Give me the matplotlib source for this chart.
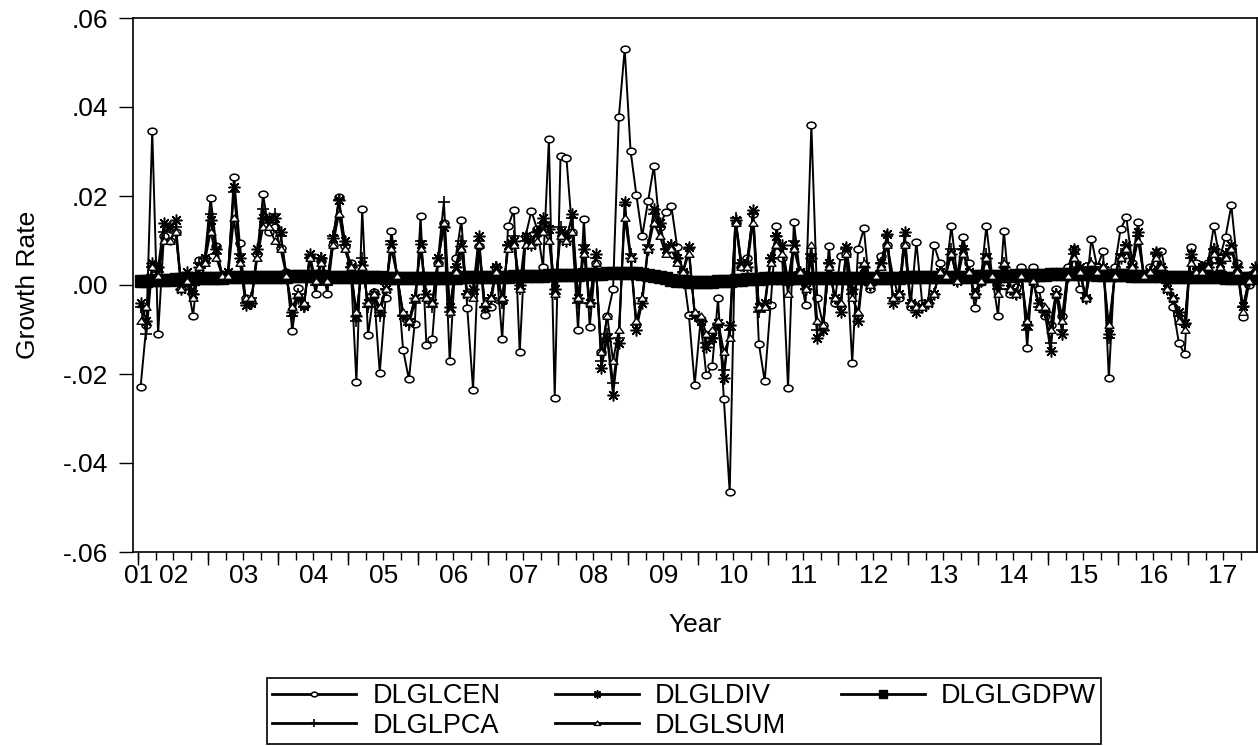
import numpy as np
import matplotlib
matplotlib.use("Agg")
import matplotlib.pyplot as plt
from matplotlib.path import Path
from matplotlib.transforms import Affine2D

plt.rcParams['font.family'] = ['Liberation Sans', 'DejaVu Sans']

# monthly growth rates, 2001m07 - 2017m06
dlglcen = [
    -0.0229, -0.0090, 0.0347, -0.0111, 0.0110, 0.0100, 0.0120, -0.0010, 0.0005, -0.0069, 0.0057, 0.0060,
    0.0196, 0.0087, 0.0020, 0.0020, 0.0243, 0.0095, -0.0030, -0.0040, 0.0070, 0.0204, 0.0120, 0.0130,
    0.0084, 0.0030, -0.0104, -0.0006, -0.0048, 0.0063, -0.0021, 0.0055, -0.0021, 0.0090, 0.0197, 0.0087,
    0.0050, -0.0218, 0.0170, -0.0113, -0.0015, -0.0197, -0.0030, 0.0121, 0.0020, -0.0145, -0.0212, -0.0087,
    0.0155, -0.0134, -0.0122, 0.0050, 0.0140, -0.0171, 0.0060, 0.0146, -0.0051, -0.0235, 0.0088, -0.0068,
    -0.0050, 0.0040, -0.0122, 0.0132, 0.0168, -0.0151, 0.0110, 0.0166, 0.0125, 0.0040, 0.0327, -0.0254,
    0.0291, 0.0286, 0.0120, -0.0102, 0.0149, -0.0095, 0.0050, -0.0150, -0.0070, -0.0010, 0.0378, 0.0531,
    0.0302, 0.0202, 0.0110, 0.0188, 0.0267, 0.0130, 0.0164, 0.0177, 0.0085, 0.0030, -0.0067, -0.0224,
    -0.0080, -0.0203, -0.0182, -0.0030, -0.0257, -0.0466, 0.0140, 0.0040, 0.0060, 0.0160, -0.0132, -0.0216,
    -0.0046, 0.0132, 0.0060, -0.0231, 0.0142, 0.0030, -0.0044, 0.0359, -0.0030, -0.0089, 0.0087, -0.0040,
    0.0065, 0.0070, -0.0175, 0.0080, 0.0127, -0.0010, 0.0020, 0.0065, 0.0090, 0.0020, -0.0030, 0.0090,
    -0.0050, 0.0097, -0.0040, -0.0040, 0.0091, 0.0050, 0.0020, 0.0132, 0.0020, 0.0108, 0.0050, -0.0051,
    0.0007, 0.0132, 0.0020, -0.0069, 0.0121, -0.0021, -0.0004, 0.0040, -0.0141, 0.0040, -0.0010, -0.0070,
    -0.0090, -0.0010, -0.0070, 0.0040, 0.0080, -0.0010, -0.0030, 0.0104, 0.0040, 0.0076, -0.0209, 0.0040,
    0.0125, 0.0152, 0.0050, 0.0141, 0.0020, 0.0040, 0.0030, 0.0076, 0.0010, -0.0050, -0.0130, -0.0156,
    0.0085, 0.0050, 0.0040, 0.0050, 0.0132, 0.0060, 0.0108, 0.0179, 0.0050, -0.0071, 0.0000, 0.0020,
]

dlgldiv = [
    -0.004, -0.008, 0.005, 0.004, 0.014, 0.013, 0.0145, -0.001, 0.003, -0.002, 0.004, 0.006,
    0.0145, 0.008, 0.002, 0.003, 0.022, 0.006, -0.0045, -0.004, 0.008, 0.015, 0.015, 0.015,
    0.012, 0.002, -0.006, -0.003, -0.0048, 0.007, 0.001, 0.006, 0.001, 0.0105, 0.019, 0.010,
    0.004, -0.007, 0.0044, -0.004, -0.002, -0.006, -0.001, 0.0092, 0.002, -0.0068, -0.0084, -0.003,
    0.0092, -0.002, -0.004, 0.006, 0.013, -0.005, 0.004, 0.0087, -0.002, -0.001, 0.011, -0.005,
    -0.003, 0.004, -0.0033, 0.009, 0.010, 0.000, 0.011, 0.009, 0.012, 0.015, 0.0126, -0.001,
    0.012, 0.010, 0.016, -0.003, 0.008, -0.004, 0.007, -0.0187, -0.012, -0.0248, -0.013, 0.0187,
    0.006, -0.010, -0.004, 0.008, 0.017, 0.014, 0.008, 0.009, 0.006, 0.003, 0.0085, -0.0068,
    -0.008, -0.014, -0.012, -0.0086, -0.021, -0.009, 0.0147, 0.005, 0.004, 0.0168, -0.005, -0.004,
    0.006, 0.011, 0.009, 0.001, 0.009, 0.003, -0.001, 0.006, -0.0118, -0.010, 0.005, -0.003,
    -0.006, 0.0086, -0.001, -0.008, 0.004, 0.000, 0.002, 0.005, 0.0115, -0.004, -0.002, 0.0118,
    -0.004, -0.006, -0.005, -0.004, -0.002, 0.003, 0.002, 0.007, 0.001, 0.008, 0.003, -0.002,
    0.001, 0.006, 0.002, 0.000, 0.004, -0.001, -0.002, 0.002, -0.009, 0.001, -0.004, -0.006,
    -0.0148, -0.002, -0.011, 0.002, 0.008, 0.004, -0.003, 0.004, 0.003, 0.004, -0.0109, 0.002,
    0.006, 0.009, 0.004, 0.012, 0.002, 0.003, 0.0075, 0.004, -0.001, -0.003, -0.006, -0.0086,
    0.007, 0.003, 0.004, 0.004, 0.008, 0.005, 0.007, 0.009, 0.004, -0.0048, 0.001, 0.004,
]

dlglgdpw = [
    0.0010, 0.0010, 0.0011, 0.0011, 0.0012, 0.0012,
    0.0013, 0.0013, 0.0014, 0.0014, 0.0015, 0.0015, 0.0016, 0.0016, 0.0016, 0.0017, 0.0017, 0.0017,
    0.0018, 0.0018, 0.0018, 0.0018, 0.0019, 0.0019, 0.0019, 0.0019, 0.0020, 0.0020, 0.0020, 0.0020,
    0.0020, 0.0020, 0.0019, 0.0019, 0.0019, 0.0018, 0.0018, 0.0018, 0.0018, 0.0017, 0.0017, 0.0017,
    0.0016, 0.0016, 0.0016, 0.0016, 0.0015, 0.0015, 0.0015, 0.0015, 0.0015, 0.0015, 0.0016, 0.0016,
    0.0016, 0.0017, 0.0017, 0.0017, 0.0018, 0.0018, 0.0018, 0.0019, 0.0019, 0.0019, 0.0020, 0.0020,
    0.0020, 0.0021, 0.0021, 0.0021, 0.0022, 0.0022, 0.0022, 0.0023, 0.0023, 0.0023, 0.0024, 0.0024,
    0.0025, 0.0025, 0.0026, 0.0026, 0.0026, 0.0027, 0.0027, 0.0026, 0.0025, 0.0023, 0.0021, 0.0018,
    0.0015, 0.0012, 0.0010, 0.0008, 0.0007, 0.0006, 0.0006, 0.0006, 0.0007, 0.0008, 0.0009, 0.0010,
    0.0011, 0.0012, 0.0013, 0.0014, 0.0014, 0.0015, 0.0015, 0.0015, 0.0016, 0.0016, 0.0016, 0.0016,
    0.0016, 0.0016, 0.0016, 0.0016, 0.0016, 0.0016, 0.0015, 0.0015, 0.0015, 0.0015, 0.0015, 0.0015,
    0.0015, 0.0015, 0.0016, 0.0016, 0.0016, 0.0017, 0.0017, 0.0017, 0.0018, 0.0018, 0.0018, 0.0018,
    0.0018, 0.0019, 0.0019, 0.0019, 0.0019, 0.0020, 0.0020, 0.0020, 0.0020, 0.0021, 0.0021, 0.0021,
    0.0022, 0.0022, 0.0022, 0.0023, 0.0023, 0.0023, 0.0024, 0.0024, 0.0024, 0.0024, 0.0024, 0.0024,
    0.0024, 0.0024, 0.0023, 0.0023, 0.0023, 0.0022, 0.0022, 0.0022, 0.0021, 0.0021, 0.0021, 0.0020,
    0.0020, 0.0020, 0.0019, 0.0019, 0.0019, 0.0018, 0.0018, 0.0018, 0.0017, 0.0017, 0.0017, 0.0017,
    0.0016, 0.0016, 0.0016, 0.0016, 0.0016, 0.0016,
]

dlglpca = [
    -0.005, -0.011, 0.004, 0.003, 0.012, 0.013, 0.013, 0.000, 0.002, -0.002, 0.005, 0.005,
    0.016, 0.007, 0.002, 0.003, 0.021, 0.007, -0.004, -0.003, 0.007, 0.017, 0.014, 0.016,
    0.011, 0.002, -0.007, -0.002, -0.005, 0.006, 0.000, 0.006, 0.000, 0.011, 0.019, 0.009,
    0.004, -0.008, 0.006, -0.005, -0.002, -0.007, -0.001, 0.010, 0.002, -0.007, -0.009, -0.004,
    0.010, -0.003, -0.005, 0.006, 0.0187, -0.006, 0.004, 0.010, -0.002, -0.002, 0.010, -0.005,
    -0.003, 0.004, -0.004, 0.009, 0.011, -0.001, 0.010, 0.010, 0.012, 0.014, 0.013, -0.002,
    0.013, 0.011, 0.015, -0.004, 0.009, -0.004, 0.006, -0.017, -0.011, -0.022, -0.012, 0.018,
    0.007, -0.009, -0.003, 0.009, 0.016, 0.013, 0.008, 0.009, 0.006, 0.003, 0.008, -0.007,
    -0.008, -0.013, -0.012, -0.009, -0.019, -0.010, 0.015, 0.005, 0.005, 0.016, -0.006, -0.005,
    0.006, 0.011, 0.008, 0.000, 0.010, 0.003, -0.001, 0.007, -0.010, -0.010, 0.005, -0.003,
    -0.005, 0.008, -0.002, -0.007, 0.005, 0.000, 0.002, 0.005, 0.011, -0.003, -0.002, 0.011,
    -0.004, -0.005, -0.005, -0.004, -0.002, 0.003, 0.002, 0.008, 0.001, 0.008, 0.003, -0.002,
    0.001, 0.007, 0.002, -0.001, 0.005, -0.001, -0.002, 0.002, -0.010, 0.001, -0.005, -0.006,
    -0.013, -0.002, -0.010, 0.002, 0.007, 0.004, -0.003, 0.005, 0.003, 0.004, -0.012, 0.002,
    0.007, 0.009, 0.004, 0.011, 0.002, 0.003, 0.007, 0.004, -0.001, -0.003, -0.007, -0.009,
    0.006, 0.003, 0.004, 0.005, 0.008, 0.005, 0.007, 0.008, 0.004, -0.005, 0.001, 0.003,
]

dlglsum = [
    -0.008, -0.005, 0.004, 0.002, 0.010, 0.010, 0.012, -0.001, 0.001, -0.003, 0.004, 0.005,
    0.012, 0.006, 0.002, 0.002, 0.015, 0.005, -0.003, -0.003, 0.006, 0.013, 0.013, 0.010,
    0.008, 0.002, -0.005, -0.002, -0.004, 0.006, 0.001, 0.005, 0.001, 0.009, 0.016, 0.008,
    0.004, -0.006, 0.004, -0.004, -0.002, -0.005, -0.001, 0.008, 0.002, -0.006, -0.008, -0.003,
    0.008, -0.003, -0.004, 0.005, 0.014, -0.006, 0.003, 0.008, -0.002, -0.003, 0.009, -0.004,
    -0.003, 0.003, -0.003, 0.008, 0.009, -0.001, 0.009, 0.009, 0.010, 0.012, 0.010, -0.002,
    0.011, 0.010, 0.012, -0.003, 0.007, -0.004, 0.005, -0.015, -0.007, -0.017, -0.010, 0.015,
    0.006, -0.008, -0.003, 0.008, 0.014, 0.011, 0.007, 0.008, 0.005, 0.003, 0.007, -0.006,
    -0.007, -0.011, -0.010, -0.008, -0.015, -0.012, 0.014, 0.004, 0.004, 0.014, -0.005, -0.005,
    0.005, 0.009, 0.007, -0.002, 0.008, 0.003, -0.001, 0.009, -0.008, -0.009, 0.004, -0.003,
    -0.004, 0.007, -0.003, -0.006, 0.005, 0.000, 0.002, 0.004, 0.009, -0.003, -0.002, 0.009,
    -0.004, -0.005, -0.005, -0.004, -0.002, 0.003, 0.002, 0.007, 0.001, 0.007, 0.003, -0.002,
    0.001, 0.006, 0.002, -0.002, 0.005, -0.001, -0.002, 0.002, -0.008, 0.001, -0.005, -0.005,
    -0.010, -0.002, -0.008, 0.002, 0.006, 0.003, -0.003, 0.005, 0.003, 0.004, -0.009, 0.002,
    0.006, 0.008, 0.004, 0.010, 0.002, 0.003, 0.006, 0.004, -0.001, -0.003, -0.008, -0.010,
    0.005, 0.003, 0.003, 0.004, 0.007, 0.004, 0.006, 0.008, 0.003, -0.006, 0.001, 0.003,
]

year_labels = ['01', '02', '03', '04', '05', '06', '07', '08', '09',
               '10', '11', '12', '13', '14', '15', '16', '17']
ytick_vals = [-0.06, -0.04, -0.02, 0.0, 0.02, 0.04, 0.06]
ytick_labels = ['-.06', '-.04', '-.02', '.00', '.02', '.04', '.06']

# slightly wide markers, like the EViews output
ellipse = Path.unit_circle().transformed(Affine2D().scale(1.35, 1.0))
tri = Path([(-1.3, -0.8), (1.3, -0.8), (0, 1.0), (-1.3, -0.8)],
           [Path.MOVETO, Path.LINETO, Path.LINETO, Path.CLOSEPOLY])

fig = plt.figure(figsize=(12.58, 7.46), dpi=100)
ax = fig.add_axes([133 / 1258, 1 - 552 / 746, (1257 - 133) / 1258, (552 - 18) / 746])

def months(s):
    return np.arange(len(s))

lw = 1.4
h_cen, = ax.plot(months(dlglcen), dlglcen, color='black', lw=lw, marker=ellipse,
                 ms=6.5, mfc='white', mec='black', mew=1.1, label='DLGLCEN')
h_div, = ax.plot(months(dlgldiv), dlgldiv, color='black', lw=lw, marker=(8, 2, 0),
                 ms=8.5, mec='black', mew=1.1, label='DLGLDIV')
h_gdp, = ax.plot(months(dlglgdpw), dlglgdpw, color='black', lw=lw, marker='s',
                 ms=8, mfc='black', mec='black', label='DLGLGDPW')
h_pca, = ax.plot(months(dlglpca), dlglpca, color='black', lw=lw, marker='+',
                 ms=8.5, mew=1.2, label='DLGLPCA')
h_sum, = ax.plot(months(dlglsum), dlglsum, color='black', lw=lw, marker=tri,
                 ms=6.5, mfc='white', mec='black', mew=1.0, label='DLGLSUM')

ax.set_xlim(-1.3, 191.4)
ax.set_ylim(-0.06, 0.06)

# quarterly ticks, year labels on January, long ticks mid-year
quarters = np.arange(-0.4, 191.4, 3)
label_pos = [-0.4] + list(np.arange(5.6, 191.4, 12))
ax.set_xticks(label_pos)
ax.set_xticklabels(year_labels)
ax.set_xticks(quarters, minor=True)
ax.tick_params(axis='x', which='both', direction='out', length=5.5, width=1.0,
               pad=3, labelsize=19)
sec = ax.secondary_xaxis('bottom')
sec.set_xticks(np.arange(-0.4, 191.4, 12))
sec.tick_params(length=9.5, width=1.0, labelbottom=False)
sec.spines['bottom'].set_visible(False)

ax.set_yticks(ytick_vals)
ax.set_yticklabels(ytick_labels)
ax.tick_params(axis='y', direction='out', length=10, width=1.0, pad=8, labelsize=19)

for sp in ax.spines.values():
    sp.set_linewidth(1.2)

ax.set_xlabel('Year', fontsize=19, labelpad=18)
ax.set_ylabel('Growth Rate', fontsize=19, labelpad=16)

leg = fig.legend([h_cen, h_pca, h_div, h_sum, h_gdp],
                 ['DLGLCEN', 'DLGLPCA', 'DLGLDIV', 'DLGLSUM', 'DLGLGDPW'],
                 ncol=3, loc='upper left',
                 bbox_to_anchor=(267 / 1258, 1 - 678 / 746),
                 fontsize=19.5, frameon=True, fancybox=False, edgecolor='black',
                 framealpha=1, borderpad=0.2, labelspacing=0.12, handlelength=3.1,
                 handletextpad=0.6, columnspacing=2.0, borderaxespad=0,
                 markerscale=0.7)
leg.get_frame().set_linewidth(1.2)
for ln in leg.get_lines():
    ln.set_linewidth(2.0)

fig.savefig('out.png', dpi=100)
